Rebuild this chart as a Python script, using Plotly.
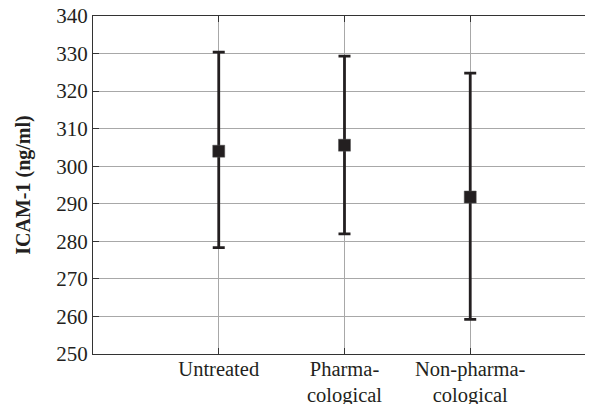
import plotly.graph_objects as go

categories = ["Untreated", "Pharma-<br>cological", "Non-pharma-<br>cological"]
x_pos = [1, 2, 3]
means = [304.0, 305.6, 291.8]
upper = [330.4, 329.3, 324.8]
lower = [278.3, 282.0, 259.2]
y_ticks = [250, 260, 270, 280, 290, 300, 310, 320, 330, 340]

err_plus = [u - m for u, m in zip(upper, means)]
err_minus = [m - l for m, l in zip(means, lower)]

dark = "#231f20"
font = "Liberation Serif, Times New Roman, serif"

fig = go.Figure()
fig.add_trace(go.Scatter(
    x=x_pos, y=means, mode="markers",
    marker=dict(symbol="square", size=12, color=dark, line=dict(width=0.5, color="#555")),
    error_y=dict(type="data", symmetric=False, array=err_plus, arrayminus=err_minus,
                 color=dark, thickness=2.8, width=6),
    showlegend=False,
))

fig.update_layout(
    width=593, height=404,
    margin=dict(l=85, r=0, t=8, b=58),
    paper_bgcolor="white", plot_bgcolor="white",
    font=dict(family=font, size=21, color="#231f20"),
)
fig.update_xaxes(
    range=[0, 4.04], tickvals=x_pos, ticktext=categories,
    showgrid=True, gridcolor="#a8a8a8", gridwidth=1,
    showline=True, linecolor="#333", linewidth=1.2, mirror="ticks",
    ticks="inside", ticklen=6, tickcolor="#333", tickwidth=1,
    tickfont=dict(family=font, size=20.5), zeroline=False, automargin=False,
    ticklabelstandoff=-4, ticklabeloverflow="allow",
)
fig.update_yaxes(
    range=[250, 340], tickvals=y_ticks,
    showgrid=True, gridcolor="#a8a8a8", gridwidth=1,
    showline=True, linecolor="#333", linewidth=1.2, mirror="ticks",
    ticks="inside", ticklen=6, tickcolor="#333", tickwidth=1,
    tickfont=dict(family=font, size=21), zeroline=False, automargin=False,
    ticklabeloverflow="allow",
    title=dict(text="<b>ICAM-1 (ng/ml)</b>", font=dict(family=font, size=20), standoff=20),
)

fig.write_html("out.html")
